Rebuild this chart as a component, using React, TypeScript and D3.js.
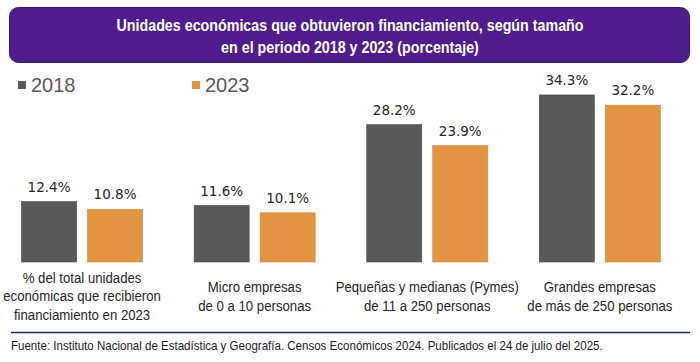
// @ts-nocheck
import * as d3 from "d3";
import React from "react";

const categories = [
  ["% del total unidades", "económicas que recibieron", "financiamiento en 2023"],
  ["Micro empresas", "de 0 a 10 personas"],
  ["Pequeñas y medianas (Pymes)", "de 11 a 250 personas"],
  ["Grandes empresas", "de más de 250 personas"],
];
const series = ["2018", "2023"];
const values2018 = [12.4, 11.6, 28.2, 34.3];
const values2023 = [10.8, 10.1, 23.9, 32.2];
const colors = ["#595959", "#E39441"];

const titleLines = [
  "Unidades económicas que obtuvieron financiamiento, según tamaño",
  "en el periodo 2018 y 2023 (porcentaje)",
];
const source =
  "Fuente: Instituto Nacional de Estadística y Geografía. Censos Económicos 2024. Publicados el 24 de julio del 2025.";

const width = 700;
const height = 362;
const sans = "'Liberation Sans', Arial, sans-serif";

export default function App() {
  const keys = categories.map((c, i) => String(i));
  const x = d3.scaleBand().domain(keys).range([-4.25, 686.15]).paddingInner(0.299).paddingOuter(0.1495);
  const xs = d3.scaleBand().domain(series).range([0, x.bandwidth()]).paddingInner(1 / 6);
  const y = d3.scaleLinear().domain([0, 35]).range([262, 262 - 35 * 4.87]);
  const rows = [values2018, values2023];

  return (
    <svg
      width={width}
      height={height}
      style={{ position: "absolute", left: 0, top: 0, background: "#fff" }}
    >
      <rect x={9.5} y={7.5} width={680} height={55} rx={9} fill="#4F1C8E" stroke="#3a1470" />
      <g transform="translate(350,0) scale(0.84,1)">
        {titleLines.map((t, i) => (
          <text
            key={i}
            x={0}
            y={31.5 + i * 22}
            textAnchor="middle"
            fill="#fff"
            fontFamily={sans}
            fontWeight="bold"
            fontSize={17}
          >
            {t}
          </text>
        ))}
      </g>

      {series.map((s, i) => (
        <g key={s} transform={`translate(${18 + i * 174},0)`}>
          <rect x={0} y={81} width={8} height={8} fill={colors[i]} />
          <text x={13} y={91.5} fontFamily={sans} fontSize={20} fill="#595959">
            {s}
          </text>
        </g>
      ))}

      {keys.map((k, ci) => (
        <g key={k} transform={`translate(${x(k)},0)`}>
          {series.map((s, si) => {
            const v = rows[si][ci];
            return (
              <g key={s}>
                <rect
                  x={xs(s)}
                  y={y(v)}
                  width={xs.bandwidth()}
                  height={y(0) - y(v)}
                  fill={colors[si]}
                  stroke={si === 0 ? "#444" : "#d4853a"}
                  strokeWidth={0.6}
                />
                <text
                  x={xs(s) + xs.bandwidth() / 2}
                  y={y(v) - 10}
                  textAnchor="middle"
                  fontFamily="'DejaVu Sans', sans-serif"
                  fontSize={13.5}
                  fill="#262626"
                >
                  {v.toFixed(1)}%
                </text>
              </g>
            );
          })}
          <g transform={`translate(${x.bandwidth() / 2},0) scale(0.88,1)`}>
            {categories[ci].map((line, li) => (
              <text
                key={li}
                x={0}
                y={301.5 + (li - (categories[ci].length - 1) / 2) * 18.5}
                textAnchor="middle"
                fontFamily={sans}
                fontSize={15}
                fill="#262626"
              >
                {line}
              </text>
            ))}
          </g>
        </g>
      ))}

      <line x1={11} x2={690} y1={332.5} y2={332.5} stroke="#1F2A6E" strokeWidth={1.3} />
      <g transform="translate(11,0) scale(0.888,1)">
        <text x={0} y={350} fontFamily={sans} fontSize={13} fill="#1a1a1a">
          {source}
        </text>
      </g>
    </svg>
  );
}
